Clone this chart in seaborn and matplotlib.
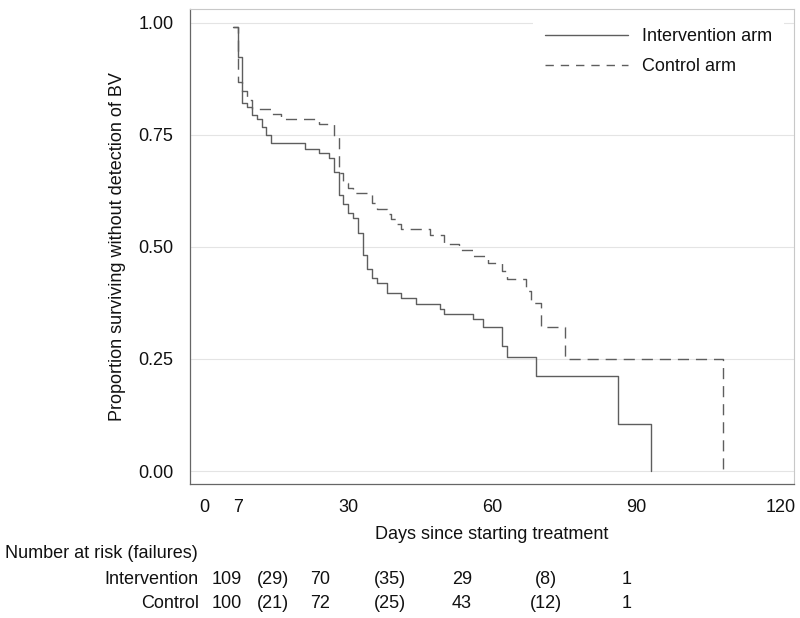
import numpy as np
import pandas as pd
import matplotlib
matplotlib.use("Agg")
import matplotlib.pyplot as plt
import seaborn as sns
from matplotlib.lines import Line2D

# ---- data ----
int_days = [6, 7, 8, 9, 10, 11, 12, 13, 14, 21, 24, 26, 27, 28, 29, 30, 31, 32,
            33, 34, 35, 36, 38, 41, 44, 49, 50, 56, 58, 62, 63, 69, 86, 93]
int_surv = [0.990, 0.925, 0.821, 0.812, 0.795, 0.785, 0.767, 0.750, 0.731, 0.719,
            0.709, 0.699, 0.668, 0.616, 0.595, 0.575, 0.564, 0.532, 0.482, 0.450,
            0.430, 0.420, 0.397, 0.385, 0.373, 0.361, 0.350, 0.339, 0.322, 0.279,
            0.255, 0.213, 0.106, 0.0]

ctl_days = [6, 7, 8, 9, 10, 14, 16, 24, 27, 28, 29, 30, 31, 35, 36, 38, 39, 40,
            41, 47, 50, 53, 56, 59, 62, 63, 67, 68, 70, 75, 108]
ctl_surv = [0.990, 0.869, 0.847, 0.828, 0.807, 0.796, 0.785, 0.774, 0.745, 0.665,
            0.643, 0.632, 0.621, 0.598, 0.585, 0.573, 0.562, 0.552, 0.540, 0.527,
            0.506, 0.493, 0.480, 0.465, 0.447, 0.428, 0.401, 0.374, 0.321, 0.249,
            0.0]

arm_labels = ["Intervention arm", "Control arm"]
xticks = [0, 7, 30, 60, 90, 120]
yticks = [0.0, 0.25, 0.50, 0.75, 1.00]

risk_rows = ["Intervention", "Control"]
risk_intervention = ["109", "(29)", "70", "(35)", "29", "(8)", "1"]
risk_control = ["100", "(21)", "72", "(25)", "43", "(12)", "1"]

df = pd.concat([
    pd.DataFrame({"day": int_days, "surv": int_surv, "arm": arm_labels[0]}),
    pd.DataFrame({"day": ctl_days, "surv": ctl_surv, "arm": arm_labels[1]}),
], ignore_index=True)

# ---- style ----
sns.set_theme(style="white")
plt.rcParams["font.family"] = ["Liberation Sans", "DejaVu Sans"]
FS = 13
line_col = "#5e5e5e"
txt_col = "#111111"

fig = plt.figure(figsize=(8, 6.18), dpi=100)
ax = fig.add_axes([190 / 800, 1 - 484 / 618, (794 - 190) / 800, (484 - 9) / 618])

sns.lineplot(data=df[df.arm == arm_labels[0]], x="day", y="surv", ax=ax,
             estimator=None, sort=False, drawstyle="steps-post",
             color=line_col, linewidth=1.0, linestyle="-", legend=False)
sns.lineplot(data=df[df.arm == arm_labels[1]], x="day", y="surv", ax=ax,
             estimator=None, sort=False, drawstyle="steps-post",
             color=line_col, linewidth=1.0, linestyle=(0, (8, 5)), legend=False)

ax.set_xlim(-2.9, 122.7)
ax.set_ylim(-0.029, 1.031)
ax.set_xticks(xticks)
ax.set_yticks(yticks)
ax.set_yticklabels([f"{v:.2f}" for v in yticks])
for v in yticks:
    ax.axhline(v, color="#e4e4e4", lw=0.8, zorder=0)

ax.tick_params(axis="both", direction="out", length=5, width=0.8,
               color="#555555", labelsize=FS, labelcolor=txt_col)
ax.tick_params(axis="y", pad=7)
ax.tick_params(axis="x", pad=6)
for s in ["left", "bottom"]:
    ax.spines[s].set_color("#666666")
    ax.spines[s].set_linewidth(0.9)
for s in ["top", "right"]:
    ax.spines[s].set_color("#c8c8c8")
    ax.spines[s].set_linewidth(0.8)

ax.set_xlabel("Days since starting treatment", fontsize=FS, color=txt_col, labelpad=7)
ax.set_ylabel("Proportion surviving without detection of BV", fontsize=FS,
              color=txt_col, labelpad=9)

handles = [Line2D([], [], color=line_col, lw=1.0, ls="-"),
           Line2D([], [], color=line_col, lw=1.0, ls=(0, (6, 5)))]
leg = ax.legend(handles, arm_labels, loc="upper left", bbox_to_anchor=(0.568, 0.985),
                frameon=True, fontsize=FS, handlelength=4.6, handletextpad=0.78,
                labelspacing=0.72, borderpad=0.66, borderaxespad=0.0, fancybox=False)
leg.get_frame().set_facecolor("white")
leg.get_frame().set_edgecolor("none")
leg.get_frame().set_alpha(1.0)
for t in leg.get_texts():
    t.set_color(txt_col)

# ---- number at risk table ----
fig.text(5 / 800, 1 - 553 / 618, "Number at risk (failures)", fontsize=FS,
         color=txt_col, ha="left", va="center")
col_x = [4.8, 14.3, 24.1, 38.7, 53.6, 71.1, 87.9]
row_y = [580, 604]
for lab, vals, py in zip(risk_rows, [risk_intervention, risk_control], row_y):
    yf = 1 - py / 618
    fig.text(199 / 800, yf, lab, fontsize=FS, color=txt_col, ha="right", va="center")
    for cx, v in zip(col_x, vals):
        xf = ax.transData.transform((cx, 0))[0] / fig.bbox.width
        fig.text(xf, yf, v, fontsize=FS, color=txt_col, ha="center", va="center")

fig.savefig("out.png", dpi=100)
